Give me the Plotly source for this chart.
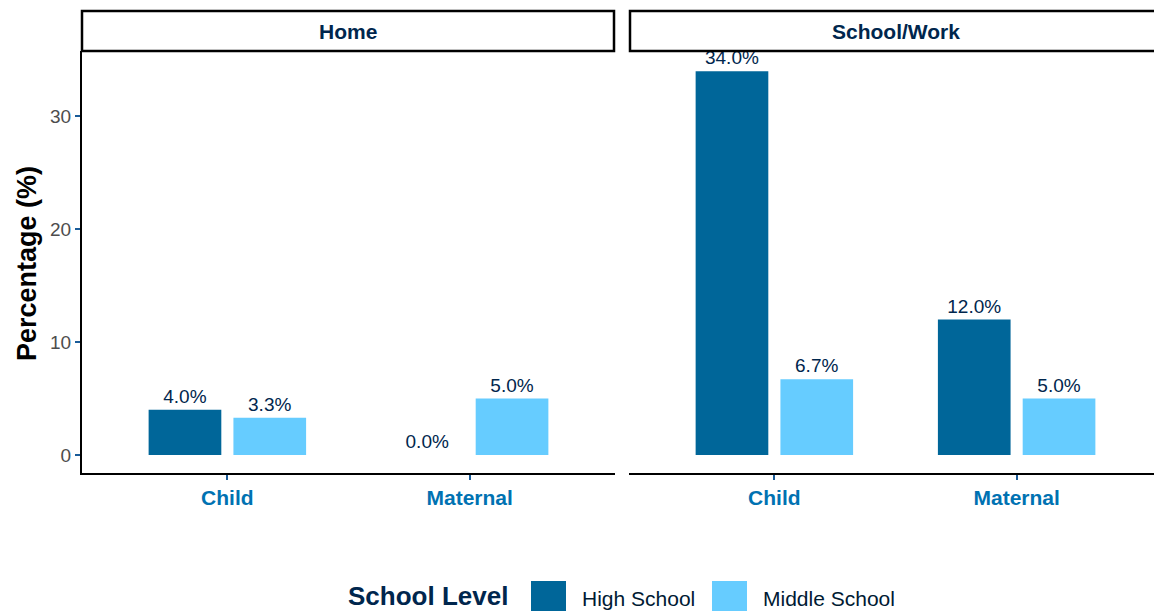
import plotly.graph_objects as go

# ---- data ----
categories = ["Child", "Maternal"]
facets = ["Home", "School/Work"]
series_names = ["High School", "Middle School"]
home_high = [4.0, 0.0]
home_middle = [3.3, 5.0]
work_high = [34.0, 12.0]
work_middle = [6.7, 5.0]
y_ticks = [0, 10, 20, 30]

colors = {"High School": "#006699", "Middle School": "#66CCFF"}

W, H = 1154, 611
def px(x):
    return x / W
def py(y):
    return 1 - y / H

FONT = "Liberation Sans, Arial, sans-serif"
LABEL_COLOR = "#00264d"

fig = go.Figure()
panel_data = [
    ("x", "y", home_high, home_middle),
    ("x2", "y2", work_high, work_middle),
]
for xa, ya, hs, ms in panel_data:
    for name, vals, off in [("High School", hs, -0.325), ("Middle School", ms, 0.025)]:
        fig.add_trace(go.Bar(
            x=categories, y=vals, name=name, xaxis=xa, yaxis=ya,
            width=0.3, offset=off,
            marker=dict(color=colors[name], line=dict(width=0)),
            text=[f"{v:.1f}%" for v in vals], textposition="outside",
            textfont=dict(family=FONT, size=19, color=LABEL_COLOR),
            constraintext="none", cliponaxis=False, showlegend=False,
        ))

yr = [-1.6, 35.8]
p1 = (82, 615)
p2 = (629, 1161)
unit = (p1[1] - p1[0]) / 2.2
dom1 = [px(p1[0]), px(p1[1])]
dom2 = [px(p2[0]), 1.0]
# category index 0 = Child, 1 = Maternal ; ggplot-like expansion of 0.6
xr1 = [-0.6, 1.6]
xr2 = [-0.6, -0.6 + (W - p2[0]) / unit]
ydom = [py(473), py(51)]

axis_common = dict(
    showgrid=False, zeroline=False, showline=True, linecolor="#000000", linewidth=2,
    ticks="outside", ticklen=5, tickwidth=2, tickcolor="#1a5c99",
)
xtickfont = dict(family=FONT, size=21, color="#0072B2", weight="bold")
fig.update_layout(
    width=W, height=H,
    xaxis=dict(domain=dom1, range=xr1, type="category", tickfont=xtickfont, **axis_common),
    xaxis2=dict(domain=dom2, range=xr2, type="category", tickfont=xtickfont, **axis_common),
    yaxis=dict(domain=ydom, range=yr, tickvals=y_ticks, anchor="x",
               tickfont=dict(family=FONT, size=19, color="#4D4D4D"), **axis_common),
    yaxis2=dict(domain=ydom, range=yr, anchor="x2", matches="y", showticklabels=False,
                showgrid=False, zeroline=False, showline=False, ticks=""),
    barmode="overlay",
    plot_bgcolor="white", paper_bgcolor="white",
    margin=dict(l=0, r=0, t=0, b=0),
    showlegend=False,
)

# facet strips
strips = [(facets[0], 82, 614, 348), (facets[1], 630, 1170, 896)]
for label, x0, x1, cx in strips:
    fig.add_shape(type="rect", xref="paper", yref="paper",
                  x0=px(x0), x1=px(x1), y0=py(51), y1=py(11),
                  line=dict(color="#000000", width=2.5), fillcolor="rgba(0,0,0,0)")
    fig.add_annotation(xref="paper", yref="paper", x=px(cx),
                       y=py(31), text=f"<b>{label}</b>", showarrow=False,
                       font=dict(family=FONT, size=21, color=LABEL_COLOR),
                       xanchor="center", yanchor="middle")

# y title
fig.add_annotation(xref="paper", yref="paper", x=px(27), y=py(264), text="<b>Percentage (%)</b>",
                   textangle=-90, showarrow=False, xanchor="center", yanchor="middle",
                   font=dict(family=FONT, size=27, color="#000000"))

# legend (drawn manually)
fig.add_annotation(xref="paper", yref="paper", x=px(346), y=py(596), text="<b>School Level</b>",
                   showarrow=False, xanchor="left", yanchor="middle",
                   font=dict(family=FONT, size=26, color="#00264d"))
legend_pos = [(531, 580), (712, 761)]
for name, (sx, tx) in zip(series_names, legend_pos):
    fig.add_shape(type="rect", xref="paper", yref="paper",
                  x0=px(sx), x1=px(sx + 35), y0=py(616), y1=py(581),
                  line=dict(width=0), fillcolor=colors[name])
    fig.add_annotation(xref="paper", yref="paper", x=px(tx), y=py(598), text=name,
                       showarrow=False, xanchor="left", yanchor="middle",
                       font=dict(family=FONT, size=21, color="#001a33"))

fig.write_html("out.html", config={"displayModeBar": False},
               post_script="document.body.style.margin='0';document.body.style.overflow='hidden';")
